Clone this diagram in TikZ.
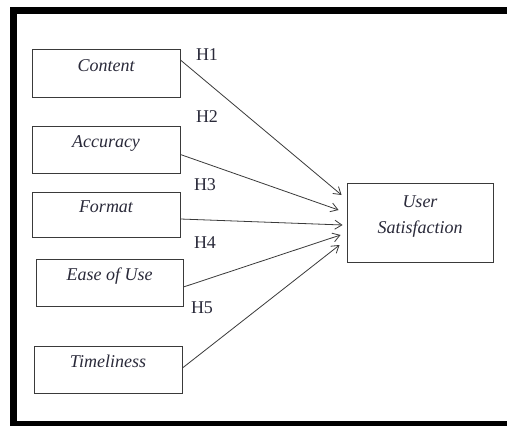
\documentclass[tikz,border=0pt]{standalone}
\usepackage{fontspec}
\setmainfont{Liberation Serif}
\usetikzlibrary{arrows.meta}
\definecolor{linegray}{HTML}{3A3A3A}
\definecolor{txt}{HTML}{2A2A3A}
\tikzset{
  box/.style={draw=linegray, line width=0.9pt, rectangle, inner sep=0pt,
    font=\fontsize{18}{20}\selectfont\itshape, text=txt, align=center,
    text height=12pt, text depth=16pt},
  hlab/.style={font=\fontsize{18}{20}\selectfont, text=txt, inner sep=0pt},
  link/.style={draw=linegray, line width=0.8pt, -{Straight Barb[length=7pt,width=9pt]}},
}
\begin{document}
\begin{tikzpicture}[x=1pt,y=-1pt]
\useasboundingbox (0,0) rectangle (507,426);
\fill[white] (0,0) rectangle (507,426);
% frame
\fill[black] (10,7) rectangle (507,14);
\fill[black] (10,7) rectangle (17,426);
\fill[black] (10,421) rectangle (507,426);
% boxes
\node[box, minimum width=148pt, minimum height=48pt] (c) at (106,73) {Content};
\node[box, minimum width=148pt, minimum height=47pt] (a) at (106,149.5) {Accuracy};
\node[box, minimum width=148pt, minimum height=45pt] (f) at (106,214.5) {Format};
\node[box, minimum width=147pt, minimum height=47pt] (e) at (109.5,282.5) {Ease of Use};
\node[box, minimum width=148pt, minimum height=47pt] (t) at (108,369.5) {Timeliness};
\node[box, minimum width=146pt, minimum height=79pt, text height=42pt, text depth=21pt] (u) at (420,222.5) {User\\[6pt]Satisfaction};
% labels
\node[hlab] (h1) at (207,55) {H1};
\node[hlab] (h2) at (207,117) {H2};
\node[hlab] (h3) at (205,185) {H3};
\node[hlab] (h4) at (205,243) {H4};
\node[hlab] (h5) at (202,308) {H5};
% arrows
\draw[link] ([yshift=13pt]c.east) -- ([xshift=-5pt,yshift=27.5pt]u.west);
\draw[link] ([yshift=-5pt]a.east) -- ([xshift=-8pt,yshift=12.5pt]u.west);
\draw[link] ([yshift=-4.5pt]f.east) -- ([xshift=-4pt,yshift=-2.5pt]u.west);
\draw[link] ([yshift=-4.5pt]e.east) -- ([xshift=-6pt,yshift=-12.5pt]u.west);
\draw[link] ([yshift=1.5pt]t.east) -- ([xshift=-7pt,yshift=-22.5pt]u.west);
\end{tikzpicture}
\end{document}
